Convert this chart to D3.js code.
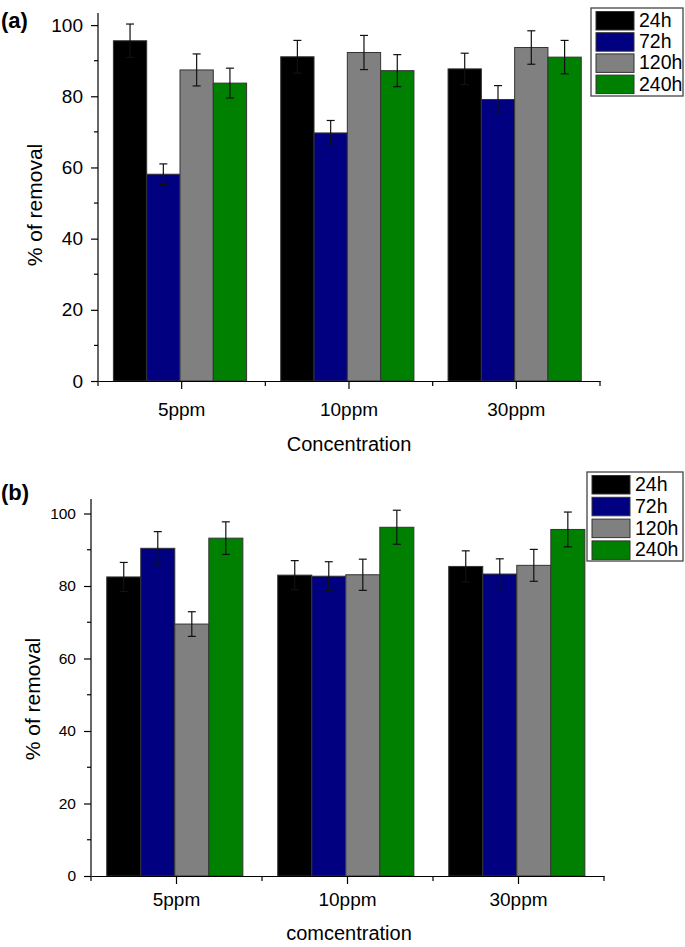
<!DOCTYPE html>
<html>
<head>
<meta charset="utf-8">
<script src="https://cdn.jsdelivr.net/npm/d3@7"></script>
<style>
  body { margin: 0; background: #fff; }
  svg text { font-family: "Liberation Sans", Arial, sans-serif; fill: #000; }
</style>
</head>
<body>
<div id="chart"></div>
<script>
// categories and series
const categories = ['5ppm', '10ppm', '30ppm'];
const seriesNames = ['24h', '72h', '120h', '240h'];
const seriesColors = ['#000000', '#000080', '#808080', '#008000'];
const yTicks = [0, 20, 40, 60, 80, 100];
const yMinorTicks = [10, 30, 50, 70, 90];

// panel (a) - % of removal, mean and error
const a24h = [95.6, 91.1, 87.7];
const a72h = [58.1, 69.7, 79.1];
const a120h = [87.4, 92.3, 93.7];
const a240h = [83.7, 87.2, 91.0];
const errA24h = [4.7, 4.6, 4.4];
const errA72h = [2.9, 3.5, 3.9];
const errA120h = [4.5, 4.8, 4.7];
const errA240h = [4.2, 4.5, 4.7];

// panel (b)
const b24h = [82.5, 83.0, 85.4];
const b72h = [90.4, 82.7, 83.3];
const b120h = [69.5, 83.1, 85.7];
const b240h = [93.2, 96.2, 95.6];
const errB24h = [4.0, 4.0, 4.3];
const errB72h = [4.6, 4.0, 4.2];
const errB120h = [3.4, 4.3, 4.4];
const errB240h = [4.5, 4.7, 4.8];

const svg = d3.select('#chart')
    .append('svg')
    .attr('width', 685)
    .attr('height', 947);

const buildRows = (vals, errs) => {
    const rows = [];
    categories.forEach((cat, ci) => {
        seriesNames.forEach((s, si) => {
            rows.push({ cat, series: s, value: vals[si][ci], err: errs[si][ci], color: seriesColors[si] });
        });
    });
    return rows;
};

const drawPanel = (cfg) => {
    const g = svg.append('g');
    const x0 = d3.scaleBand()
        .domain(categories)
        .range([cfg.left, cfg.right]);
    const bw = x0.bandwidth();
    const x1 = d3.scaleBand()
        .domain(seriesNames)
        .range([bw * 0.092, bw * 0.888]);
    const y = d3.scaleLinear()
        .domain([0, cfg.yMax])
        .range([cfg.bottom, cfg.top]);

    const rows = buildRows(cfg.values, cfg.errors);

    // bars
    g.selectAll('rect.bar')
        .data(rows)
        .enter()
        .append('rect')
        .attr('class', 'bar')
        .attr('x', (d) => x0(d.cat) + x1(d.series))
        .attr('y', (d) => y(d.value))
        .attr('width', x1.bandwidth())
        .attr('height', (d) => y(0) - y(d.value))
        .attr('fill', (d) => d.color)
        .attr('stroke', '#333')
        .attr('stroke-width', 1);

    // error bars
    const eb = g.selectAll('g.err')
        .data(rows)
        .enter()
        .append('g')
        .attr('class', 'err')
        .attr('stroke', '#111')
        .attr('stroke-width', 1.2);
    const cx = (d) => x0(d.cat) + x1(d.series) + x1.bandwidth() / 2;
    eb.append('line')
        .attr('x1', cx).attr('x2', cx)
        .attr('y1', (d) => y(d.value + d.err))
        .attr('y2', (d) => y(d.value - d.err));
    eb.append('line')
        .attr('x1', (d) => cx(d) - 4).attr('x2', (d) => cx(d) + 4)
        .attr('y1', (d) => y(d.value + d.err)).attr('y2', (d) => y(d.value + d.err));
    eb.append('line')
        .attr('x1', (d) => cx(d) - 4).attr('x2', (d) => cx(d) + 4)
        .attr('y1', (d) => y(d.value - d.err)).attr('y2', (d) => y(d.value - d.err));

    // y axis
    const yAxis = g.append('g')
        .attr('transform', `translate(${cfg.left},0)`)
        .call(d3.axisLeft(y).tickValues(yTicks).tickSize(7).tickPadding(8).tickSizeOuter(0));
    yAxis.select('.domain').attr('d', `M0,${y(cfg.yMax)}V${y(0)}`);
    yAxis.selectAll('text')
        .style('font-size', `${cfg.yTickFont}px`)
        .style('font-family', '"Liberation Sans", Arial, sans-serif');
    yAxis.selectAll('line, path').attr('stroke', '#000').attr('stroke-width', 1.2);
    g.append('g')
        .attr('transform', `translate(${cfg.left},0)`)
        .selectAll('line')
        .data(yMinorTicks)
        .enter()
        .append('line')
        .attr('x1', -4).attr('x2', 0)
        .attr('y1', (d) => y(d)).attr('y2', (d) => y(d))
        .attr('stroke', '#000').attr('stroke-width', 1.2);

    // x axis
    const xAxis = g.append('g')
        .attr('transform', `translate(0,${cfg.bottom})`)
        .call(d3.axisBottom(x0).tickSize(8).tickPadding(cfg.xTickPad).tickSizeOuter(0));
    xAxis.selectAll('text')
        .style('font-size', '19px')
        .style('font-family', '"Liberation Sans", Arial, sans-serif');
    xAxis.selectAll('line, path').attr('stroke', '#000').attr('stroke-width', 1.2);
    const bounds = [cfg.left, cfg.left + bw, cfg.left + 2 * bw, cfg.right];
    g.append('g')
        .attr('transform', `translate(0,${cfg.bottom})`)
        .selectAll('line')
        .data(bounds)
        .enter()
        .append('line')
        .attr('x1', (d) => d).attr('x2', (d) => d)
        .attr('y1', 0).attr('y2', 5)
        .attr('stroke', '#000').attr('stroke-width', 1.2);

    // titles
    g.append('text')
        .attr('x', cfg.xTitleX)
        .attr('y', cfg.xTitleY)
        .attr('text-anchor', 'middle')
        .style('font-size', '20px')
        .text(cfg.xTitle);
    g.append('text')
        .attr('transform', `translate(${cfg.yTitleX},${cfg.yTitleY}) rotate(-90)`)
        .attr('text-anchor', 'middle')
        .style('font-size', '21px')
        .text('% of removal');
    g.append('text')
        .attr('x', 1)
        .attr('y', cfg.labelY)
        .style('font-size', '22px')
        .style('font-weight', 'bold')
        .text(cfg.label);

    // legend
    const lg = g.append('g').attr('transform', `translate(${cfg.legX},${cfg.legY})`);
    lg.append('rect')
        .attr('x', 0).attr('y', 0)
        .attr('width', cfg.legW).attr('height', cfg.legH)
        .attr('fill', '#fff').attr('stroke', '#444').attr('stroke-width', 1.3);
    const items = lg.selectAll('g.item')
        .data(seriesNames)
        .enter()
        .append('g')
        .attr('transform', (d, i) => `translate(5,${3.5 + i * cfg.legPitch})`);
    items.append('rect')
        .attr('width', 38).attr('height', 18.5)
        .attr('fill', (d, i) => seriesColors[i])
        .attr('stroke', '#333').attr('stroke-width', 1);
    items.append('text')
        .attr('x', 43).attr('y', 15.5)
        .style('font-size', '19.5px')
        .text((d) => d);
};

drawPanel({
    values: [a24h, a72h, a120h, a240h],
    errors: [errA24h, errA72h, errA120h, errA240h],
    left: 98, right: 600, top: 13, bottom: 381, yMax: 103.4,
    yTickFont: 19, xTickPad: 14,
    xTitle: 'Concentration', xTitleX: 349, xTitleY: 451,
    yTitleX: 42, yTitleY: 205,
    label: '(a)', labelY: 28,
    legX: 591, legY: 8, legW: 92, legH: 88, legPitch: 21.2,
});

drawPanel({
    values: [b24h, b72h, b120h, b240h],
    errors: [errB24h, errB72h, errB120h, errB240h],
    left: 91, right: 604, top: 499, bottom: 876, yMax: 104,
    yTickFont: 15.5, xTickPad: 9,
    xTitle: 'comcentration', xTitleX: 349, xTitleY: 940,
    yTitleX: 40, yTitleY: 699,
    label: '(b)', labelY: 500,
    legX: 587, legY: 472, legW: 96, legH: 89, legPitch: 21.8,
});
</script>
</body>
</html>
